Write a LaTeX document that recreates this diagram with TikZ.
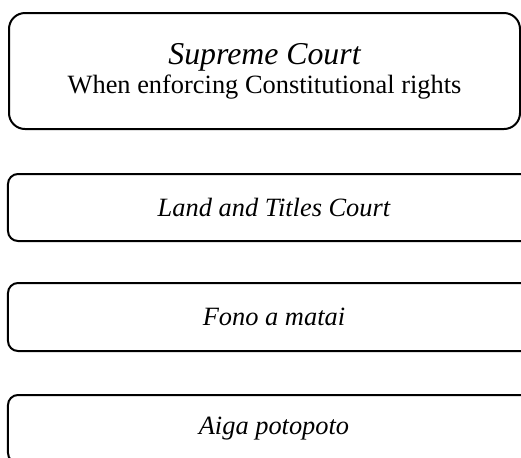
\documentclass[tikz,border=0pt]{standalone}
\usepackage{fontspec}
\setmainfont{Liberation Serif}
\usepackage{tikz}
\usetikzlibrary{shapes,positioning}
\tikzstyle{courtbox}=[draw,rectangle,line width=1pt,inner sep=0pt,font=\fontsize{13.2}{15.5}\selectfont\itshape]
\tikzstyle{bigbox}=[courtbox,rounded corners=8pt,minimum width=255.5pt,minimum height=58pt,align=center]
\tikzstyle{smallbox}=[courtbox,rounded corners=5pt,minimum width=266pt]

\begin{document}
\begin{tikzpicture}[x=0.5pt,y=-0.5pt]

\useasboundingbox (0,0) rectangle (521,457);
\clip (0,0) rectangle (521,457);

\node[bigbox] (sc) at (264.5,71) {{\fontsize{15.9}{18}\selectfont Supreme Court}\\[-1pt]\upshape When enforcing Constitutional rights};

\node[smallbox, minimum height=33.5pt] (ltc) at (274,207.5) {Land and Titles Court};
\node[smallbox, minimum height=34pt] (fam) at (274,317) {Fono a matai};
\node[smallbox, minimum height=34pt] (ap) at (274,429) {Aiga potopoto};

\end{tikzpicture}
\end{document}
